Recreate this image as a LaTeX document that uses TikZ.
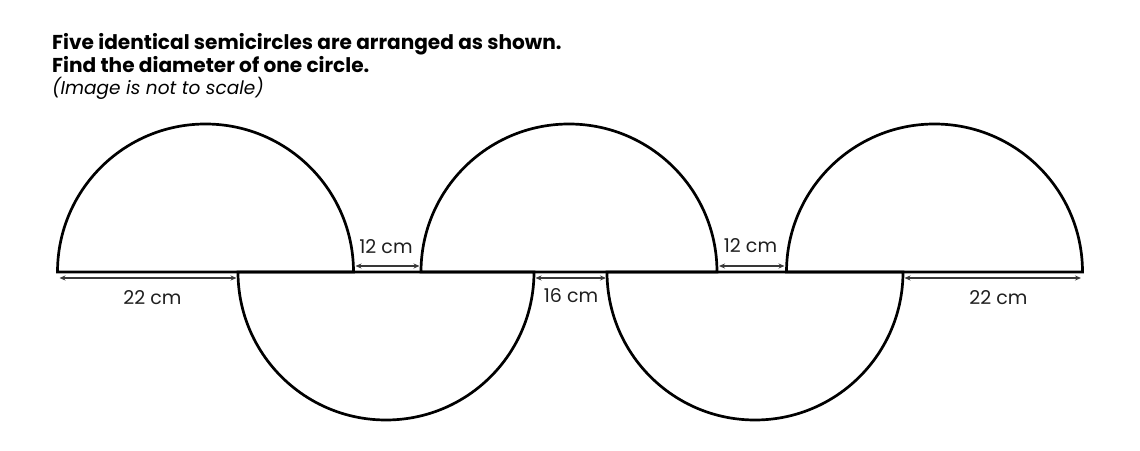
\documentclass[tikz,border=0pt]{standalone}
\usepackage{fontspec}
\setmainfont{Poppins}
\usetikzlibrary{arrows.meta,calc}
\tikzset{
  semi/.style={line width=2.7pt, line join=miter, draw=black},
  dim/.style={line width=1.2pt, draw=black!78, {Stealth[length=6pt,width=5pt]}-{Stealth[length=6pt,width=5pt]}},
  lab/.style={font=\fontsize{19}{21}\selectfont, anchor=base, inner sep=0pt, text=black!88},
  ttl/.style={anchor=base west, inner sep=0pt, font=\fontsize{20.1}{22}\selectfont\bfseries},
}
\begin{document}
\begin{tikzpicture}[x=1pt,y=1pt]
\useasboundingbox (0,0) rectangle (1140,450);
% title
\node[ttl] (t1) at (52,400) {Five identical semicircles are arranged as shown.};
\node[ttl] (t2) at (52,377.5) {Find the diameter of one circle.};
\node[anchor=base west, inner sep=0pt, font=\fontsize{18.5}{20}\selectfont\itshape] (t3) at (52,355) {(Image is not to scale)};
% semicircles, r = 148, baseline Y = 178
\def\R{148}
\draw[semi] (57.5,178) arc[start angle=180,end angle=0,radius=\R] -- cycle;
\draw[semi] (421,178) arc[start angle=180,end angle=0,radius=\R] -- cycle;
\draw[semi] (786.5,178) arc[start angle=180,end angle=0,radius=\R] -- cycle;
\draw[semi] (238,178) arc[start angle=180,end angle=360,radius=\R] -- cycle;
\draw[semi] (607,178) arc[start angle=180,end angle=360,radius=\R] -- cycle;
% dimension coordinates
\coordinate (a1) at (59.5,172);  \coordinate (a2) at (236.5,172);
\coordinate (b1) at (355.5,184); \coordinate (b2) at (419.5,184);
\coordinate (c1) at (535.5,172); \coordinate (c2) at (606,172);
\coordinate (d1) at (719,184);   \coordinate (d2) at (784.5,184);
\coordinate (e1) at (904.5,172); \coordinate (e2) at (1081,172);
\draw[dim] (a1) -- (a2);
\draw[dim] (b1) -- (b2);
\draw[dim] (c1) -- (c2);
\draw[dim] (d1) -- (d2);
\draw[dim] (e1) -- (e2);
% labels
\node[lab] (la) at (152.5,146) {22 cm};
\node[lab] (lb) at (386,196) {12 cm};
\node[lab] (lc) at (571,147) {16 cm};
\node[lab] (ld) at (750.5,197) {12 cm};
\node[lab] (le) at (998.5,146) {22 cm};
\end{tikzpicture}
\end{document}
